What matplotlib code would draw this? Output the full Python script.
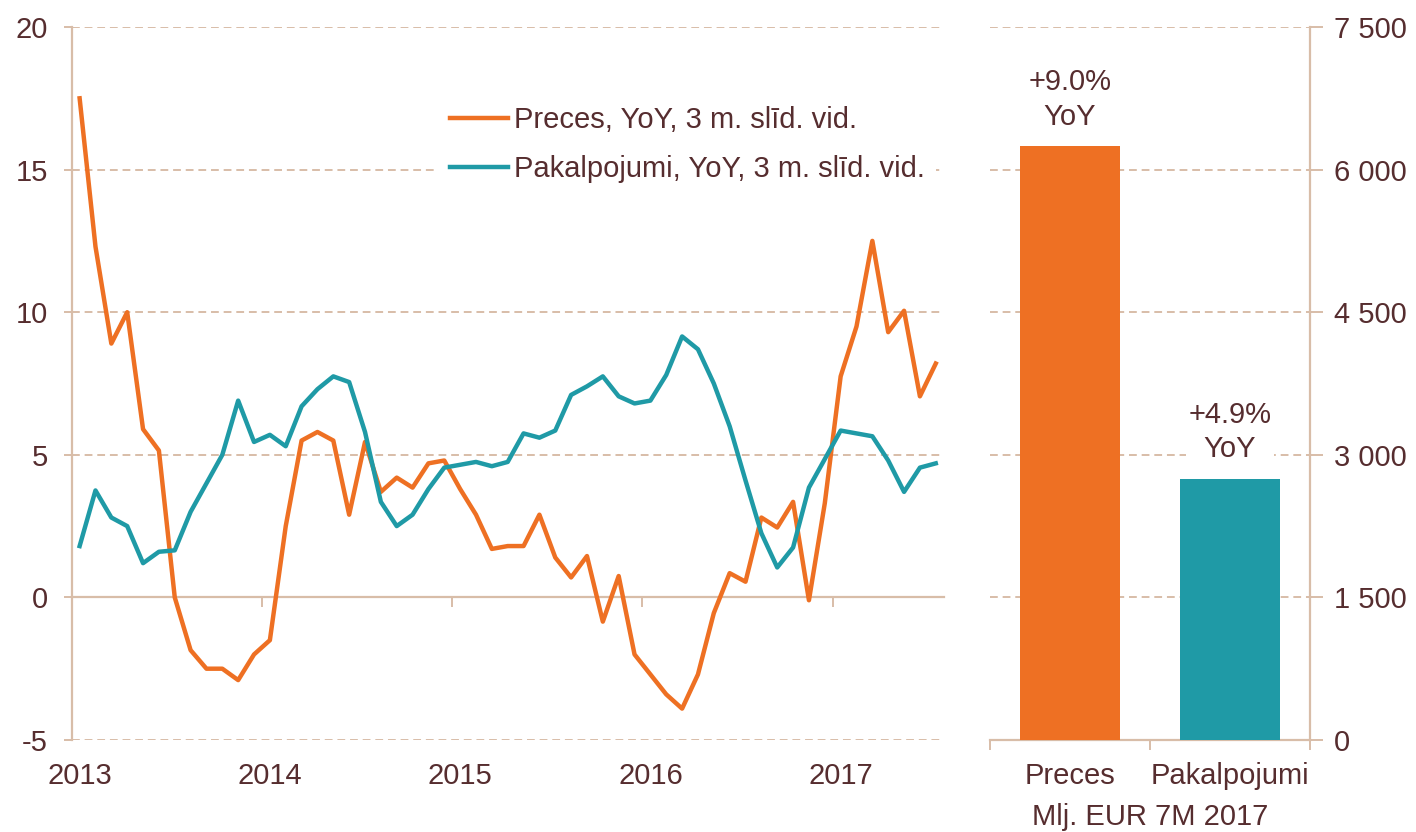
import matplotlib.pyplot as plt
import numpy as np

# krāsas
oranzs = '#EE7023'
zils = '#1F9AA6'
tumss = '#562D2F'
rezga = '#D8BDA8'

# mēnešu dati 2013-01 .. 2017-07 (YoY, %, 3 m. slīd. vid.)
gadi = ['2013', '2014', '2015', '2016', '2017']
preces = [17.5, 12.3, 8.9, 10.0, 5.9, 5.15, 0.0, -1.85, -2.5, -2.5, -2.9, -2.0,
          -1.5, 2.5, 5.5, 5.8, 5.5, 2.9, 5.45, 3.7, 4.2, 3.85, 4.7, 4.8,
          3.8, 2.9, 1.7, 1.8, 1.8, 2.9, 1.4, 0.7, 1.45, -0.85, 0.75, -2.0,
          -2.7, -3.4, -3.9, -2.7, -0.55, 0.85, 0.55, 2.8, 2.45, 3.35, -0.1, 3.3,
          7.75, 9.5, 12.5, 9.3, 10.05, 7.05, 8.2]
pakalpojumi = [1.8, 3.75, 2.8, 2.5, 1.2, 1.6, 1.65, 3.0, 4.0, 5.0, 6.9, 5.45,
               5.7, 5.3, 6.7, 7.3, 7.75, 7.55, 5.8, 3.35, 2.5, 2.9, 3.8, 4.55,
               4.65, 4.75, 4.6, 4.75, 5.75, 5.6, 5.85, 7.1, 7.4, 7.75, 7.05, 6.8,
               6.9, 7.8, 9.15, 8.7, 7.5, 6.0, 4.1, 2.25, 1.05, 1.75, 3.85, 4.85,
               5.85, 5.75, 5.65, 4.8, 3.7, 4.55, 4.7]
leg_preces = 'Preces, YoY, 3 m. slīd. vid.'
leg_pakalp = 'Pakalpojumi, YoY, 3 m. slīd. vid.'

# stabiņi: Mlj. EUR 7M 2017
bar_kat = ['Preces', 'Pakalpojumi']
bar_vert = [6250, 2750]
bar_yoy = ['+9.0%\nYoY', '+4.9%\nYoY']
bar_krasas = [oranzs, zils]

plt.rcParams['font.family'] = ['Liberation Sans', 'DejaVu Sans']
plt.rcParams['font.size'] = 21
plt.rcParams['axes.unicode_minus'] = False
plt.rcParams['text.color'] = tumss
plt.rcParams['xtick.color'] = rezga
plt.rcParams['ytick.color'] = rezga
plt.rcParams['xtick.labelcolor'] = tumss
plt.rcParams['ytick.labelcolor'] = tumss

fig = plt.figure(figsize=(14.16, 8.32), dpi=100)

# ---- kreisais panelis: līnijas ----
ax = fig.add_axes([71.7 / 1416, 92 / 832, 872 / 1416, 713 / 832])
x = np.arange(len(preces))
ax.plot(x, preces, color=oranzs, lw=3.2, label=leg_preces, zorder=3)
ax.plot(x, pakalpojumi, color=zils, lw=3.2, label=leg_pakalp, zorder=3)

ax.set_xlim(-0.5, len(preces) - 0.5)
ax.set_ylim(-5, 20)
ax.set_yticks(np.arange(-5, 21, 5))
ax.yaxis.grid(True, color=rezga, lw=1.4, linestyle=(0, (4, 2.5)))
ax.set_axisbelow(True)

ax.set_xticks(np.arange(0, len(preces), 12))
ax.set_xticklabels(gadi)
ax.tick_params(axis='x', length=0, pad=16)
ax.tick_params(axis='y', length=6, width=1.4, pad=11)

for s in ['top', 'right', 'bottom']:
    ax.spines[s].set_visible(False)
ax.spines['left'].set_color(rezga)
ax.spines['left'].set_linewidth(1.6)

# x ass pie nulles ar gada robežu iedaļām
nulle = ax.secondary_xaxis(5 / 25)
nulle.set_xticks(np.arange(11.5, len(preces), 12))
nulle.tick_params(axis='x', length=7, width=1.4, labelbottom=False)
nulle.spines['bottom'].set_color(rezga)
nulle.spines['bottom'].set_linewidth(1.6)

leg = ax.legend(loc='upper left', bbox_to_anchor=(0.42, 0.905), frameon=True,
                facecolor='white', edgecolor='none', framealpha=1,
                handlelength=2.0, handletextpad=0.2, labelspacing=0.72,
                borderaxespad=0)
leg.set_zorder(5)

# ---- labais panelis: stabiņi ----
ab = fig.add_axes([990 / 1416, 92 / 832, 320 / 1416, 713 / 832])
pos = np.arange(len(bar_kat))
stabi = ab.bar(pos, bar_vert, width=0.63, color=bar_krasas, zorder=3)
for st, txt in zip(stabi, bar_yoy):
    ab.annotate(txt, (st.get_x() + st.get_width() / 2, st.get_height()),
                xytext=(0, 11), textcoords='offset points', ha='center', va='bottom',
                linespacing=1.3, zorder=4,
                bbox=dict(facecolor='white', edgecolor='none', pad=2))

ab.set_xlim(-0.5, len(bar_kat) - 0.5)
ab.set_ylim(0, 7500)
ab.set_yticks(np.arange(0, 7501, 1500))
ab.set_yticklabels([f'{v:,.0f}'.replace(',', ' ') for v in np.arange(0, 7501, 1500)])
ab.yaxis.tick_right()
ab.tick_params(axis='y', length=9, width=1.4, pad=8)
ab.yaxis.grid(True, color=rezga, lw=1.4, linestyle=(0, (4, 2.5)))
ab.set_axisbelow(True)

ab.set_xticks(pos)
ab.set_xticklabels(bar_kat)
ab.set_xticks(np.arange(-0.5, len(bar_kat), 1), minor=True)
ab.tick_params(axis='x', which='major', length=0, pad=16)
ab.tick_params(axis='x', which='minor', length=7, width=1.4)
ab.set_xlabel('Mlj. EUR 7M 2017', labelpad=9, color=tumss)

for s in ['top', 'left']:
    ab.spines[s].set_visible(False)
for s in ['right', 'bottom']:
    ab.spines[s].set_color(rezga)
    ab.spines[s].set_linewidth(1.6)

fig.savefig('out.png', dpi=100)
